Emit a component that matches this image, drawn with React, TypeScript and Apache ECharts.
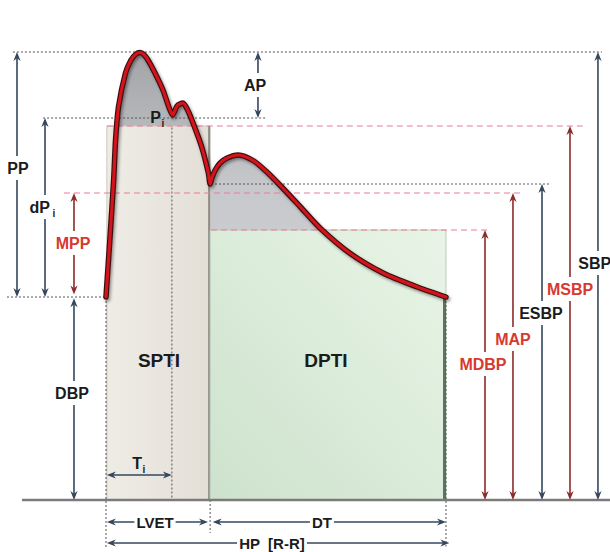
import React, { useEffect, useRef } from "react";
import * as echarts from "echarts";

// Time in ms (0 = start of ejection), pressure in mmHg
const WAVE_T = [0, 9, 18, 22.5, 29.4, 45.9, 58.8, 70.6, 80, 89, 98.8, 115.3, 134, 148, 157, 167, 181, 194, 205, 225, 241, 245, 249, 257, 268, 284, 311, 347, 378, 409, 457, 504, 574, 653, 731, 800];
const WAVE_P = [81.2, 104, 128, 144, 157.2, 170.8, 176, 178.4, 179, 178.2, 176, 170.8, 164, 157.2, 154, 157.6, 158.8, 155.3, 150.7, 141.3, 130.7, 126.4, 128.7, 132, 134.7, 136.7, 138, 135.7, 131.3, 126, 117.3, 108.7, 98.7, 90.7, 85.3, 81.2];

// Pressure levels (mmHg)
const SBP = 179.2;
const PI = 152.8;
const MSBP = 149.6;
const ESBP = 126.4;
const MAP = 122.8;
const MDBP = 108;
const DBP = 81.2;

// Time marks (ms)
const TI = 155;
const LVET = 245;
const HP = 800;

// Axis windows
const X_MIN = -249.4;
const X_MAX = 1185.9;
const Y_MIN = -20.8;
const Y_MAX = 200;

const NAVY = "#34475c";
const DRED = "#8a2c2c";
const RED = "#d8392f";
const TXT = "#1b1b1b";
const PINK = "#e97c9a";
const GDASH = "#555555";

// Guide lines: [level, from t, to t, kind]
const H_GUIDES: [number, number, number, string][] = [
  [SBP, -219, 1167, "gray"],
  [PI, -148, 379, "gray"],
  [MSBP, 2, 1127, "pink"],
  [ESBP, 247, 1045, "gray"],
  [MAP, -99, 974, "pink"],
  [MDBP, 247, 898, "pink"],
  [DBP, -233, 0, "gray"],
];
// Vertical dotted guides: [t, from p, to p]
const V_GUIDES: [number, number, number][] = [
  [0, DBP, -19.2],
  [TI, 149, 0],
  [LVET, 0, -13.2],
  [HP, DBP, -18.6],
];

// Arrows: [t1, p1, t2, p2, headAtStart, headAtEnd, color]
const ARROWS: [number, number, number, number, boolean, boolean, string][] = [
  [-209.4, SBP, -209.4, DBP, true, true, NAVY],
  [-143.5, PI, -143.5, DBP, true, true, NAVY],
  [-75.3, MAP, -75.3, DBP + 1, true, true, DRED],
  [-75.3, DBP - 0.5, -75.3, 0, true, true, NAVY],
  [357.6, SBP, 357.6, PI, true, true, NAVY],
  [891.8, MDBP, 891.8, 0, true, true, DRED],
  [957.6, MAP, 957.6, 0, true, true, DRED],
  [1025.9, ESBP, 1025.9, 0, true, true, NAVY],
  [1091.8, MSBP, 1091.8, 0, true, true, DRED],
  [1157.6, SBP, 1157.6, 0, true, true, NAVY],
  [2, 10, TI, 10, true, true, NAVY],
  [2, -8.8, 240, -8.8, true, true, NAVY],
  [251, -8.8, 800, -8.8, true, true, NAVY],
  [2, -17.2, 808, -17.2, true, true, NAVY],
];

// Labels: [text, subscript, t, p, color, size, whiteBg]
const LABELS: [string, string, number, number, string, number, boolean][] = [
  ["PP", "", -207, 132.8, TXT, 16, true],
  ["dP", "i", -127, 117.2, TXT, 16, true],
  ["MPP", "", -77.6, 102.8, RED, 16, true],
  ["AP", "", 350.6, 166, TXT, 16, true],
  ["P", "i", 129.4, 153.2, TXT, 16, false],
  ["DBP", "", -80, 42.8, TXT, 16, true],
  ["SPTI", "", 124.7, 56, TXT, 19, false],
  ["T", "i", 84.7, 14.8, TXT, 16, false],
  ["LVET", "", 115.3, -8.8, TXT, 15, true],
  ["DT", "", 508, -8.8, TXT, 15, true],
  ["HP  [R-R]", "", 390.6, -17.2, TXT, 15, true],
  ["DPTI", "", 517.6, 56, TXT, 19, false],
  ["MDBP", "", 887, 54.4, RED, 16, true],
  ["MAP", "", 957.6, 64.4, RED, 16, true],
  ["ESBP", "", 1023.5, 74.8, TXT, 16, true],
  ["MSBP", "", 1091.8, 84.4, RED, 16, true],
  ["SBP", "", 1150, 94.8, TXT, 16, true],
];

const FONT = '"Liberation Sans", Arial, Helvetica, sans-serif';

function head(tip: number[], d: number[], color: string) {
  const L = 9;
  const W = 3.6;
  const nx = -d[1];
  const ny = d[0];
  return {
    type: "polygon",
    shape: {
      points: [
        [tip[0], tip[1]],
        [tip[0] - d[0] * L + nx * W, tip[1] - d[1] * L + ny * W],
        [tip[0] - d[0] * L * 0.7, tip[1] - d[1] * L * 0.7],
        [tip[0] - d[0] * L - nx * W, tip[1] - d[1] * L - ny * W],
      ],
    },
    style: { fill: color },
  };
}

export default function App() {
  const ref = useRef<HTMLDivElement>(null);
  useEffect(() => {
    if (!ref.current) return;
    const chart = echarts.init(ref.current, null, { renderer: "svg" });
    const wave = WAVE_T.map((t, i) => [t, WAVE_P[i]]);

    const lineBase = {
      type: "line",
      silent: true,
      data: wave,
      smooth: 0.25,
      showSymbol: false,
      symbol: "none",
    };

    const option: any = {
      animation: false,
      grid: { left: 0, right: 0, top: 0, bottom: 0 },
      xAxis: { type: "value", min: X_MIN, max: X_MAX, show: false },
      yAxis: { type: "value", min: Y_MIN, max: Y_MAX, show: false },
      series: [
        {
          ...lineBase,
          z: 1,
          lineStyle: { width: 0 },
          areaStyle: {
            origin: 0,
            opacity: 1,
            color: new echarts.graphic.LinearGradient(0, 0, 0, 1, [
              { offset: 0, color: "#a2a4a8" },
              { offset: 0.3, color: "#c6c8cb" },
              { offset: 1, color: "#dcdddf" },
            ]),
          },
        },
        {
          type: "custom",
          z: 2,
          silent: true,
          data: [
            [2, 0, LVET, MSBP],
            [LVET, 0, HP, MDBP],
          ],
          renderItem: (params: any, api: any) => {
            const i = params.dataIndex;
            const a = api.coord([api.value(0), api.value(1)]);
            const b = api.coord([api.value(2), api.value(3)]);
            const x = Math.min(a[0], b[0]);
            const y = Math.min(a[1], b[1]);
            const w = Math.abs(b[0] - a[0]);
            const h = Math.abs(b[1] - a[1]);
            if (i === 0) {
              return {
                type: "group",
                children: [
                  {
                    type: "rect",
                    shape: { x, y, width: w, height: h },
                    style: {
                      fill: new echarts.graphic.LinearGradient(0, 0, 1, 0, [
                        { offset: 0, color: "#efece6" },
                        { offset: 1, color: "#e3dfd7" },
                      ]),
                      stroke: "#cdc9c1",
                      lineWidth: 1,
                    },
                  },
                  {
                    type: "line",
                    shape: { x1: x + w - 1, y1: y, x2: x + w - 1, y2: y + h },
                    style: { stroke: "#8f8c86", lineWidth: 2 },
                  },
                ],
              };
            }
            const endP = api.coord([api.value(2), DBP]);
            return {
              type: "group",
              children: [
                {
                  type: "rect",
                  shape: { x, y, width: w, height: h },
                  style: {
                    fill: new echarts.graphic.LinearGradient(0, 1, 1, 0, [
                      { offset: 0, color: "#cde2cc" },
                      { offset: 1, color: "#e9f5e7" },
                    ]),
                    stroke: "#b9c9b9",
                    lineWidth: 1,
                  },
                },
                {
                  type: "line",
                  shape: { x1: x + w - 1.5, y1: endP[1], x2: x + w - 1.5, y2: y + h },
                  style: { stroke: "#5d7460", lineWidth: 3 },
                },
              ],
            };
          },
        },
        {
          type: "custom",
          z: 3,
          silent: true,
          data: H_GUIDES.map((g) => [g[1], g[0], g[2]]),
          renderItem: (params: any, api: any) => {
            const g = H_GUIDES[params.dataIndex];
            const a = api.coord([g[1], g[0]]);
            const b = api.coord([g[2], g[0]]);
            const pink = g[3] === "pink";
            return {
              type: "line",
              shape: { x1: a[0], y1: a[1], x2: b[0], y2: b[1] },
              style: {
                stroke: pink ? PINK : GDASH,
                lineWidth: pink ? 1.2 : 1,
                lineDash: pink ? [6, 4] : [2, 2],
              },
            };
          },
        },
        {
          type: "custom",
          z: 3,
          silent: true,
          data: V_GUIDES.map((g) => [g[0], g[1], g[2]]),
          renderItem: (params: any, api: any) => {
            const g = V_GUIDES[params.dataIndex];
            const a = api.coord([g[0], g[1]]);
            const b = api.coord([g[0], g[2]]);
            return {
              type: "line",
              shape: { x1: a[0], y1: a[1], x2: b[0], y2: b[1] },
              style: { stroke: GDASH, lineWidth: 1, lineDash: [2, 2] },
            };
          },
        },
        {
          type: "custom",
          z: 3,
          silent: true,
          data: [[-197.6, 0, X_MAX]],
          renderItem: (params: any, api: any) => {
            const a = api.coord([api.value(0), api.value(1)]);
            const b = api.coord([api.value(2), api.value(1)]);
            return {
              type: "line",
              shape: { x1: a[0], y1: a[1], x2: b[0], y2: b[1] },
              style: { stroke: "#7b7b7b", lineWidth: 2.5 },
            };
          },
        },
        {
          ...lineBase,
          z: 4,
          lineStyle: {
            width: 5.5,
            color: "#3a0f0f",
            cap: "round",
            join: "round",
            shadowColor: "rgba(0,0,0,0.4)",
            shadowBlur: 3,
            shadowOffsetX: 1.5,
            shadowOffsetY: 2,
          },
        },
        {
          ...lineBase,
          z: 5,
          lineStyle: { width: 3.2, color: "#d4141c", cap: "round", join: "round" },
        },
        {
          type: "custom",
          z: 6,
          silent: true,
          data: ARROWS.map((a) => [a[0], a[1], a[2], a[3]]),
          renderItem: (params: any, api: any) => {
            const a = ARROWS[params.dataIndex];
            const p1 = api.coord([a[0], a[1]]);
            const p2 = api.coord([a[2], a[3]]);
            const len = Math.hypot(p2[0] - p1[0], p2[1] - p1[1]) || 1;
            const d = [(p2[0] - p1[0]) / len, (p2[1] - p1[1]) / len];
            const inset = 6;
            const s = a[4] ? [p1[0] + d[0] * inset, p1[1] + d[1] * inset] : p1;
            const e = a[5] ? [p2[0] - d[0] * inset, p2[1] - d[1] * inset] : p2;
            const children: any[] = [
              {
                type: "line",
                shape: { x1: s[0], y1: s[1], x2: e[0], y2: e[1] },
                style: { stroke: a[6], lineWidth: 1.6 },
              },
            ];
            if (a[4]) children.push(head(p1, [-d[0], -d[1]], a[6]));
            if (a[5]) children.push(head(p2, d, a[6]));
            return { type: "group", children };
          },
        },
        {
          type: "custom",
          z: 7,
          silent: true,
          data: LABELS.map((l) => [l[2], l[3]]),
          renderItem: (params: any, api: any) => {
            const l = LABELS[params.dataIndex];
            const [x, y] = api.coord([l[2], l[3]]);
            const font = `bold ${l[5]}px ${FONT}`;
            const bg = l[6] ? { backgroundColor: "#ffffff", padding: [4, 2] } : {};
            if (!l[1]) {
              return {
                type: "text",
                x,
                y,
                style: {
                  text: l[0],
                  font,
                  fill: l[4],
                  align: "center",
                  verticalAlign: "middle",
                  ...bg,
                },
              };
            }
            return {
              type: "group",
              children: [
                {
                  type: "text",
                  x,
                  y,
                  style: {
                    text: l[0],
                    font,
                    fill: l[4],
                    align: "right",
                    verticalAlign: "middle",
                    ...bg,
                  },
                },
                {
                  type: "text",
                  x: x + 0.5,
                  y: y + 6,
                  style: {
                    text: l[1],
                    font: `bold 10px ${FONT}`,
                    fill: l[4],
                    align: "left",
                    verticalAlign: "middle",
                  },
                },
              ],
            };
          },
        },
      ],
    };
    chart.setOption(option);
    return () => chart.dispose();
  }, []);

  return (
    <div
      ref={ref}
      style={{ position: "absolute", left: 0, top: 0, width: 610, height: 552, background: "#fff" }}
    />
  );
}
